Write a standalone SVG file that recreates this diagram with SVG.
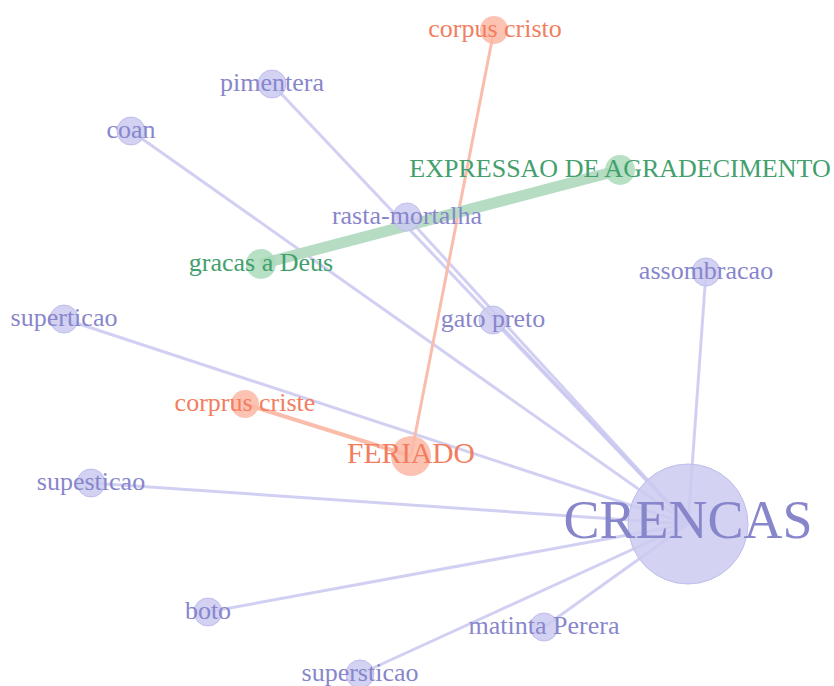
<svg xmlns="http://www.w3.org/2000/svg" width="834" height="686" viewBox="0 0 834 686">
<style>
text{font-family:"Liberation Serif","Times New Roman",serif;text-anchor:middle;font-size:26px}
.b circle{fill:#cbcaf0;fill-opacity:.85;stroke:#c0beeb;stroke-width:1}
.b text{fill:#8886cb}
.o circle{fill:#fbb9a6;fill-opacity:.85}
.o text{fill:#f27e5f}
.g circle{fill:#aadabb;fill-opacity:.85}
.g text{fill:#43a06d}
.eb{stroke:#cac8f0;stroke-width:3;fill:none;stroke-opacity:.85}
.eo{stroke:#fbbdab;stroke-width:3;fill:none}
.eg{stroke:#b6ddc4;stroke-width:11;fill:none}
</style>
<rect width="834" height="686" fill="#fff"/>
<g id="edges">
<line class="eb" x1="688" y1="524" x2="272" y2="84"/>
<line class="eb" x1="688" y1="524" x2="131" y2="131"/>
<line class="eb" x1="688" y1="524" x2="407" y2="217"/>
<line class="eb" x1="688" y1="524" x2="493" y2="320"/>
<line class="eb" x1="688" y1="524" x2="706" y2="272"/>
<line class="eb" x1="688" y1="524" x2="64" y2="319"/>
<line class="eb" x1="688" y1="524" x2="91" y2="483"/>
<line class="eb" x1="688" y1="524" x2="208" y2="612"/>
<line class="eb" x1="688" y1="524" x2="544" y2="627"/>
<line class="eb" x1="688" y1="524" x2="360" y2="674"/>
<line class="eo" x1="411" y1="456" x2="494" y2="30"/>
<line class="eo" x1="411" y1="456" x2="245" y2="404" style="stroke-width:4"/>
<line class="eg" x1="261" y1="264" x2="620" y2="170"/>
</g>
<g id="n-crencas" class="b"><circle cx="688" cy="524" r="60"/><text x="688" y="538" style="font-size:54px">CRENCAS</text></g>
<g id="n-corpus-cristo" class="o"><circle cx="494" cy="30" r="14"/><text x="495" y="37">corpus cristo</text></g>
<g id="n-pimentera" class="b"><circle cx="272" cy="84" r="14"/><text x="272" y="91">pimentera</text></g>
<g id="n-coan" class="b"><circle cx="131" cy="131" r="14"/><text x="131" y="138">coan</text></g>
<g id="n-expressao" class="g"><circle cx="620" cy="170" r="15"/><text x="620" y="177">EXPRESSAO DE AGRADECIMENTO</text></g>
<g id="n-rasta" class="b"><circle cx="407" cy="217" r="14"/><text x="407" y="224">rasta-mortalha</text></g>
<g id="n-gracas" class="g"><circle cx="261" cy="264" r="15"/><text x="261" y="271">gracas a Deus</text></g>
<g id="n-assombracao" class="b"><circle cx="706" cy="272" r="14"/><text x="706" y="279">assombracao</text></g>
<g id="n-superticao" class="b"><circle cx="64" cy="319" r="14"/><text x="64" y="326">superticao</text></g>
<g id="n-gato" class="b"><circle cx="493" cy="320" r="14"/><text x="493" y="327">gato preto</text></g>
<g id="n-corprus" class="o"><circle cx="245" cy="404" r="14"/><text x="245" y="411">corprus criste</text></g>
<g id="n-feriado" class="o"><circle cx="411" cy="456" r="20"/><text x="411" y="463" style="font-size:29.5px">FERIADO</text></g>
<g id="n-supesticao" class="b"><circle cx="91" cy="483" r="14"/><text x="91" y="490">supesticao</text></g>
<g id="n-boto" class="b"><circle cx="208" cy="612" r="14"/><text x="208" y="619">boto</text></g>
<g id="n-matinta" class="b"><circle cx="544" cy="627" r="14"/><text x="544" y="634">matinta Perera</text></g>
<g id="n-supersticao" class="b"><circle cx="360" cy="674" r="14"/><text x="360" y="681">supersticao</text></g>
</svg>
